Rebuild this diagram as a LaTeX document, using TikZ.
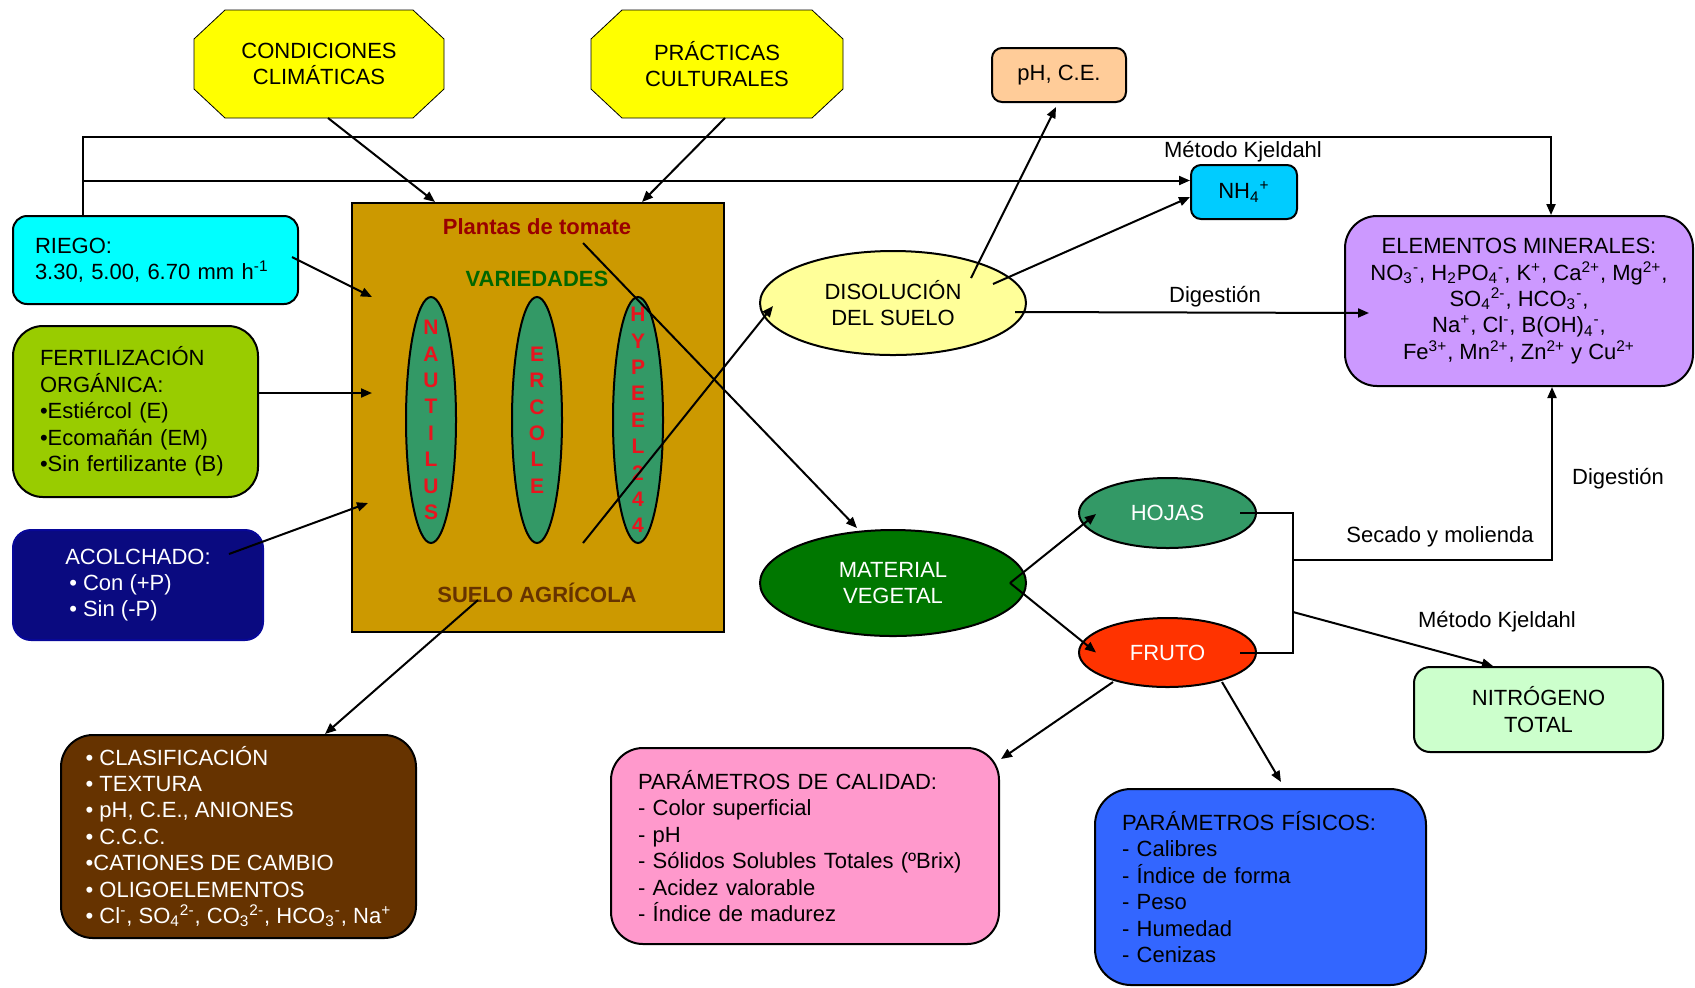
\documentclass[tikz,border=0pt]{standalone}
\usepackage{fontspec}
\setmainfont{Liberation Sans}
\usetikzlibrary{arrows.meta,calc,backgrounds,shapes.geometric}
\definecolor{cYellow}{HTML}{FFFF00}
\definecolor{cPeach}{HTML}{FFCC99}
\definecolor{cNH}{HTML}{00CCFF}
\definecolor{cLila}{HTML}{CC99FF}
\definecolor{cCyan}{HTML}{00FFFF}
\definecolor{cLime}{HTML}{99CC00}
\definecolor{cNavy}{HTML}{0A0A80}
\definecolor{cGold}{HTML}{CC9900}
\definecolor{cSea}{HTML}{339966}
\definecolor{cPale}{HTML}{FFFF99}
\definecolor{cGreen}{HTML}{007700}
\definecolor{cOrange}{HTML}{FF3300}
\definecolor{cMint}{HTML}{CCFFCC}
\definecolor{cBrown}{HTML}{663300}
\definecolor{cPink}{HTML}{FF99CC}
\definecolor{cBlue}{HTML}{3366FF}
\definecolor{cDarkRed}{HTML}{990000}
\definecolor{cDarkGreen}{HTML}{006600}
\definecolor{cLetter}{HTML}{E8141E}
\setlength\lineskiplimit{-20pt}
\newcommand\ssp[2]{\textsubscript{#1}\textsuperscript{#2}}
\newcommand\octagonfor[1]{\draw[fill=cYellow] ([xshift=15.5pt]#1.north west) -- ([xshift=-15.5pt]#1.north east) -- ([yshift=-14.5pt]#1.north east) -- ([yshift=14.5pt]#1.south east) -- ([xshift=-15.5pt]#1.south east) -- ([xshift=15.5pt]#1.south west) -- ([yshift=14.5pt]#1.south west) -- ([yshift=-14.5pt]#1.north west) -- cycle;}
\begin{document}
\begin{tikzpicture}[x=0.5pt,y=-0.5pt,
  font=\fontsize{11}{13.2}\selectfont,
  line width=1pt,
  arr/.style={-{Triangle[length=5.5pt,width=4.5pt]}},
  box/.style={draw=black,rectangle,rounded corners=#1,inner sep=0pt},
  box/.default=6pt,
  ell/.style={draw=black,ellipse,inner sep=0pt},
  oval/.style={draw=black,ellipse,fill=cSea,minimum width=25pt,minimum height=123pt,inner sep=0pt},
  letters/.style={font=\fontsize{10.5}{13.2}\selectfont\bfseries,text=cLetter,align=center,inner sep=0pt},
  boldlab/.style={font=\fontsize{11}{13.2}\selectfont\bfseries,inner sep=0pt},
  lab/.style={inner sep=0pt}]
\useasboundingbox (0,0) rectangle (1695,987);

% top octagon nodes (shapes drawn on background layer)
\node[minimum width=124pt,minimum height=53pt,align=center,inner sep=0pt] (cond) at (319,64) {CONDICIONES\\CLIMÁTICAS};
\node[minimum width=125pt,minimum height=53pt,align=center,inner sep=0pt] (prac) at (717,64) {PRÁCTICAS\\CULTURALES};

% small boxes
\node[box=5pt,fill=cPeach,minimum width=67pt,minimum height=27pt] (ph) at (1059,75) {pH, C.E.};
\node[box=5pt,fill=cNH,minimum width=53pt,minimum height=27pt] (nh4) at (1244,192) {NH\ssp{4}{+}};
\node[lab] (mk1) at (1243,152) {Método Kjeldahl};

% elementos minerales
\node[box=16pt,fill=cLila,minimum width=174pt,minimum height=85pt,align=center] (elem) at (1519,301)
 {ELEMENTOS MINERALES:\\
  NO\ssp{3}{-}, H\textsubscript{2}PO\ssp{4}{-}, K\textsuperscript{+}, Ca\textsuperscript{2+}, Mg\textsuperscript{2+},\\
  SO\ssp{4}{2-}, HCO\ssp{3}{-},\\
  Na\textsuperscript{+}, Cl\textsuperscript{-}, B(OH)\ssp{4}{-},\\
  Fe\textsuperscript{3+}, Mn\textsuperscript{2+}, Zn\textsuperscript{2+} y Cu\textsuperscript{2+}};

% left boxes
\node[box=7pt,fill=cCyan,minimum width=142.5pt,minimum height=44pt,inner xsep=11pt,text width=120.5pt,align=left] (riego) at (155.5,260)
 {RIEGO:\\3.30, 5.00, 6.70 mm h\textsuperscript{-1}};
\node[box=15pt,fill=cLime,minimum width=122.5pt,minimum height=85.5pt,inner xsep=13.5pt,text width=95.5pt,align=left] (fert) at (135.5,411.5)
 {FERTILIZACIÓN\\ORGÁNICA:\\•Estiércol (E)\\•Ecomañán (EM)\\•Sin fertilizante (B)};
\node[box=9pt,draw=cNavy!80!blue,fill=cNavy,text=white,minimum width=125pt,minimum height=55pt,align=left] (acol) at (138,585)
 {ACOLCHADO:\\\hspace{2pt}• Con (+P)\\\hspace{2pt}• Sin (-P)};

% soil box
\node[draw=black,rectangle,fill=cGold,minimum width=186pt,minimum height=214.5pt,inner sep=0pt] (soil) at (538,417.5) {};
\node[boldlab,text=cDarkRed] (plantas) at (537,227) {Plantas de tomate};
\node[boldlab,text=cDarkGreen] (variedades) at (537,279) {VARIEDADES};
\node[boldlab,text=cBrown] (sueloag) at (537,593) {SUELO AGRÍCOLA};
\node[oval] (naut) at (431,420) {};
\node[oval] (erco) at (537,420) {};
\node[oval] (hyp) at (638,420) {};
\node[letters] (nautt) at (naut) {N\\A\\U\\T\\I\\L\\U\\S};
\node[letters] (ercot) at (erco) {E\\R\\C\\O\\L\\E};
\node[letters] (hypt) at (hyp) {H\\Y\\P\\E\\E\\L\\2\\4\\4};

% ellipses
\node[ell,fill=cPale,minimum width=133pt,minimum height=52pt,align=center] (disol) at (893,303) {DISOLUCIÓN\\DEL SUELO};
\node[ell,fill=cGreen,text=white,minimum width=133pt,minimum height=53pt,align=center] (mat) at (893,583) {MATERIAL\\VEGETAL};
\node[ell,fill=cSea,text=white,minimum width=88.5pt,minimum height=35pt] (hojas) at (1167.5,513) {HOJAS};
\node[ell,fill=cOrange,text=white,minimum width=88.5pt,minimum height=34.5pt] (fruto) at (1167.5,652.5) {FRUTO};

% right boxes
\node[box=8pt,fill=cMint,minimum width=124.5pt,minimum height=42.5pt,align=center] (nitro) at (1538.5,709.5) {NITRÓGENO\\TOTAL};
\node[box=16pt,fill=cBrown,text=white,minimum width=177.5pt,minimum height=101.5pt,align=left] (brown) at (238.5,836.5)
 {• CLASIFICACIÓN\\• TEXTURA\\• pH, C.E., ANIONES\\• C.C.C.\\•CATIONES DE CAMBIO\\• OLIGOELEMENTOS\\
  • Cl\textsuperscript{-}, SO\ssp{4}{2-}, CO\ssp{3}{2-}, HCO\ssp{3}{-}, Na\textsuperscript{+}};
\node[box=16pt,fill=cPink,minimum width=194pt,minimum height=98pt,inner xsep=13.5pt,text width=167pt,align=left] (calidad) at (805,846)
 {PARÁMETROS DE CALIDAD:\\- Color superficial\\- pH\\- Sólidos Solubles Totales (ºBrix)\\- Acidez valorable\\- Índice de madurez};
\node[box=18pt,fill=cBlue,minimum width=165.5pt,minimum height=98pt,inner xsep=13.5pt,text width=138.5pt,align=left] (fisicos) at (1260.5,887)
 {PARÁMETROS FÍSICOS:\\- Calibres\\- Índice de forma\\- Peso\\- Humedad\\- Cenizas};

% labels
\node[lab] (dig1) at (1215,297) {Digestión};
\node[lab] (secado) at (1440,537) {Secado y molienda};
\node[lab] (dig2) at (1618,479) {Digestión};
\node[lab] (mk2) at (1497,622) {Método Kjeldahl};

% background: white page and octagons
\begin{scope}[on background layer]
\fill[white] (0,0) rectangle (1695,987);
\octagonfor{cond}
\octagonfor{prac}
\end{scope}

% connectors
\coordinate (rtop) at ([xshift=-36.25pt]riego.north);
\coordinate (topy) at (0,137);
\coordinate (eltop) at ([xshift=16pt]elem.north);
\draw[arr] (rtop) -- (rtop |- topy) -| (eltop);
\coordinate (nhin) at ([yshift=5.75pt]nh4.west);
\draw[arr] (rtop |- nhin) -- (nhin);

\draw[arr] ([xshift=4.5pt]cond.south) -- ([xshift=-51.5pt]soil.north);
\draw[arr] ([xshift=4pt]prac.south) -- ([xshift=52pt]soil.north);

\draw[arr] ($(riego.east)+(-7,-3)$) -- ($(soil.west)+(21,-120.5)$);
\draw[arr] ($(fert.east)+(-2,-18.5)$) -- ($(soil.west)+(21,-24.5)$);
\draw[arr] ($(acol.center)+(91,-31)$) -- ($(soil.west)+(17,85.5)$);

\draw[arr] ($(plantas.center)+(46,16)$) -- ($(mat.north)+(-36,-1)$);
\draw[arr] ($(soil.center)+(45,125.5)$) -- ($(disol.west)+(14,3)$);
\draw[arr] ($(sueloag.center)+(-59,7)$) -- ([xshift=43.25pt]brown.north);

\draw[arr] ($(disol.center)+(78,-25)$) -- ($(ph.south)+(-3,4)$);
\draw[arr] ($(disol.center)+(100,-19)$) -- ($(nh4.west)+(0,5)$);
\draw[arr] ($(disol.center)+(122,9)$) -- ($(elem.west)+(25,12)$);

\draw[arr] ($(mat.east)+(-17,0)$) -- ($(hojas.west)+(18,1)$);
\draw[arr] ($(mat.east)+(-17,0)$) -- ($(fruto.west)+(18,0)$);

\coordinate (j1) at (1293,560);
\coordinate (j2) at (1293,612);
\draw ($(hojas.east)+(-17,0)$) -| (j1) |- ($(fruto.east)+(-17,0)$);
\draw[arr] (j1) -| ([xshift=16.5pt]elem.south);
\draw[arr] (j2) -- ([xshift=-22.75pt]nitro.north);

\draw[arr] ($(fruto.center)+(-54.5,29.5)$) -- ($(calidad.north east)+(1,12)$);
\draw[arr] ($(fruto.center)+(54.5,29.5)$) -- ($(fisicos.north)+(20.5,-6)$);
\end{tikzpicture}
\end{document}
